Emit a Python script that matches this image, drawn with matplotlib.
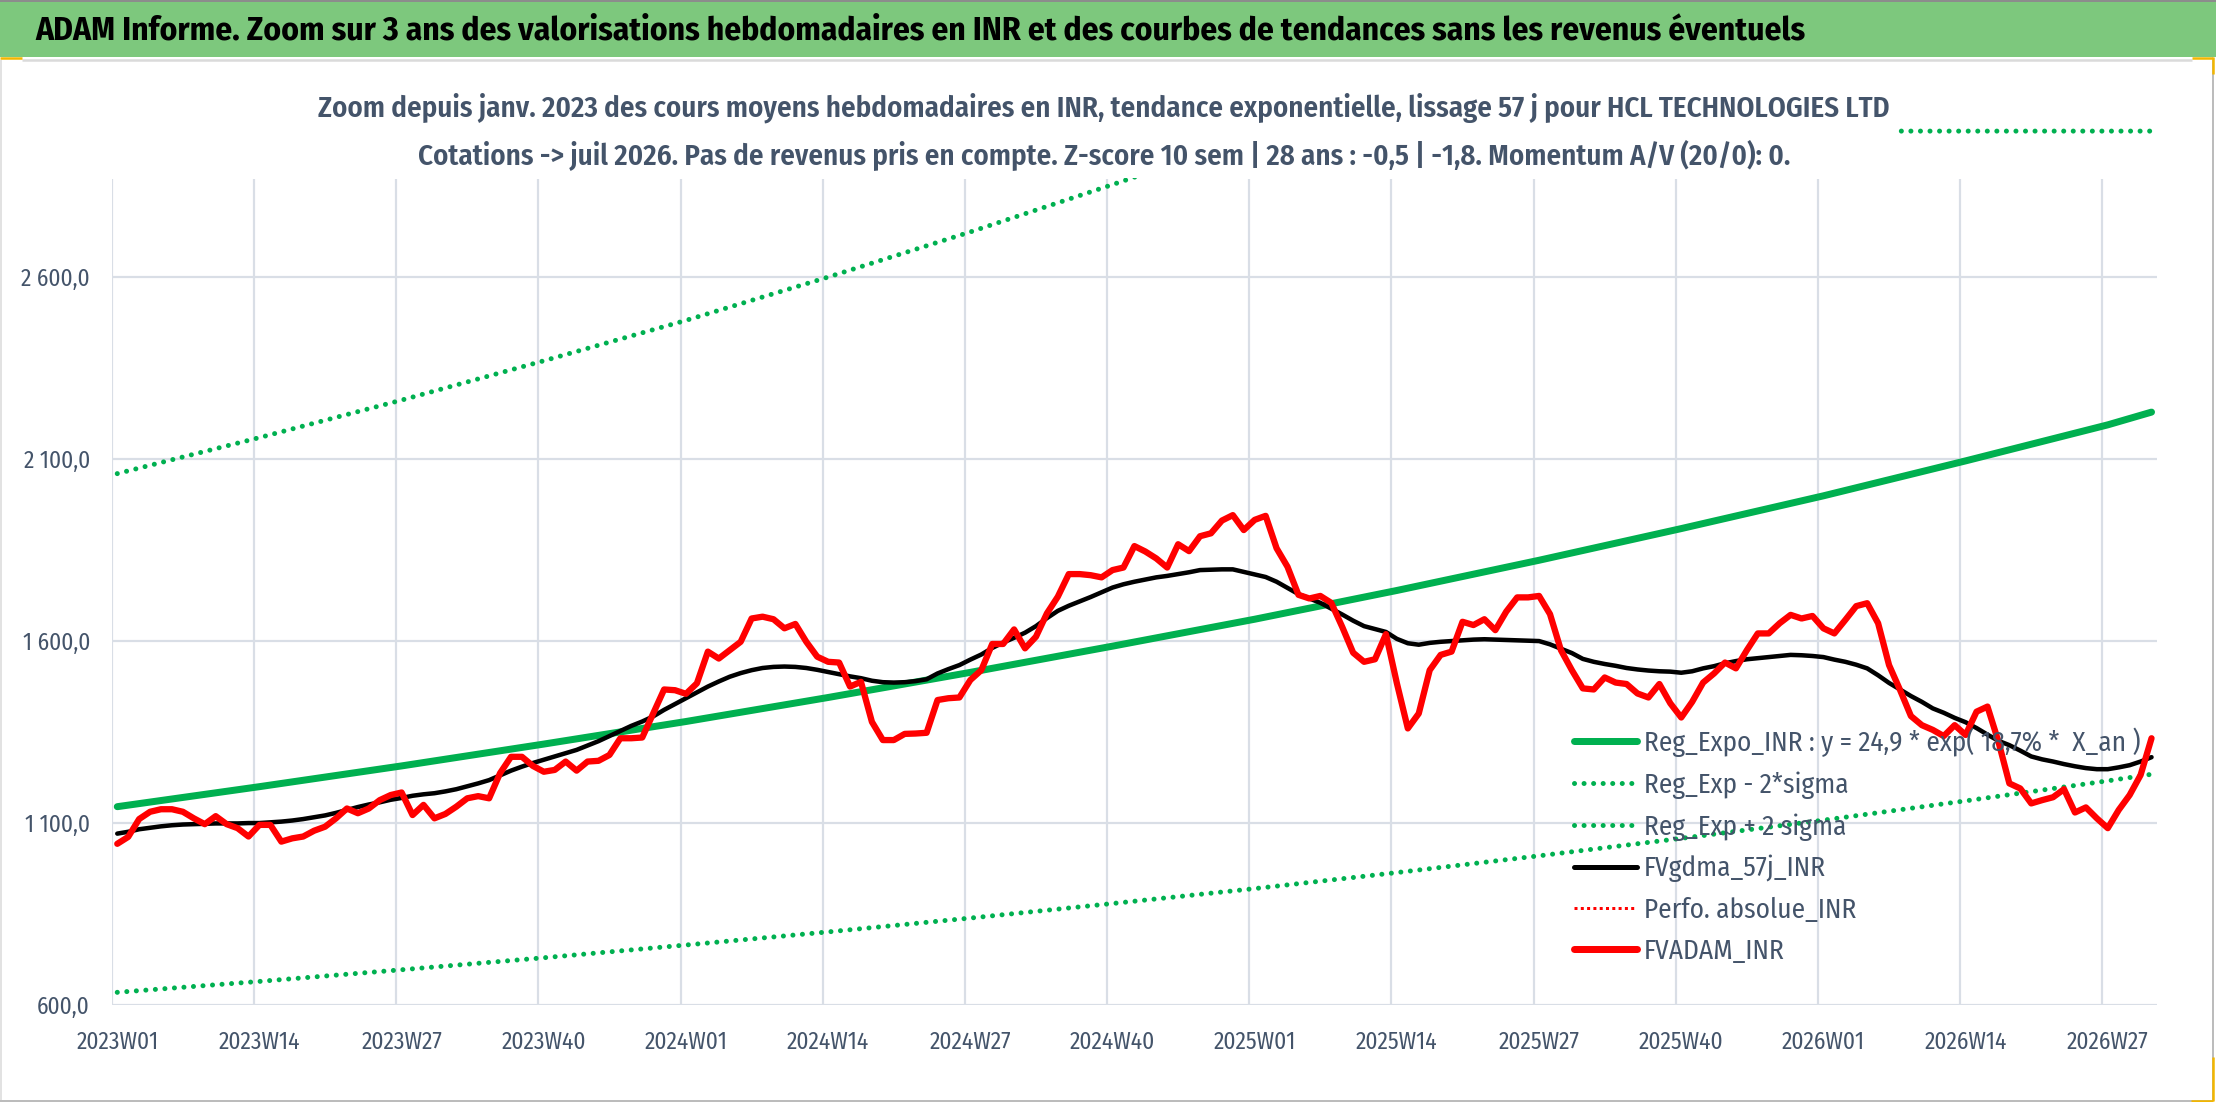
import numpy as np
import matplotlib
matplotlib.use("Agg")
import matplotlib.pyplot as plt
from matplotlib import font_manager as fm
from matplotlib.font_manager import FontProperties
from matplotlib.lines import Line2D
from matplotlib.patches import Rectangle

# ---------------- data ----------------
title = ("ADAM Informe. Zoom sur 3 ans des valorisations hebdomadaires en INR "
         "et des courbes de tendances sans les revenus éventuels")
subtitle_1 = ("Zoom depuis janv. 2023 des cours moyens hebdomadaires en INR, tendance "
              "exponentielle, lissage 57 j pour HCL TECHNOLOGIES LTD")
subtitle_2 = ("Cotations -> juil 2026. Pas de revenus pris en compte. Z-score 10 sem | "
              "28 ans : -0,5 | -1,8. Momentum A/V (20/0): 0.")

tick_weeks = [0, 13, 26, 39, 52, 65, 78, 91, 104, 117, 130, 143, 156, 169, 182]
tick_labels = ["2023W01", "2023W14", "2023W27", "2023W40", "2024W01", "2024W14",
               "2024W27", "2024W40", "2025W01", "2025W14", "2025W27", "2025W40",
               "2026W01", "2026W14", "2026W27"]
y_ticks = [600, 1100, 1600, 2100, 2600]
y_tick_labels = ["600,0", "1 100,0", "1 600,0", "2 100,0", "2 600,0"]

legend_labels = ["Reg_Expo_INR : y = 24,9 * exp( 18,7% *  X_an )",
                 "Reg_Exp - 2*sigma",
                 "Reg_Exp + 2 sigma",
                 "FVgdma_57j_INR",
                 "Perfo. absolue_INR",
                 "FVADAM_INR"]

# weekly average valuation (one value per week from 2023W01)
fvadam_inr = [
    1042, 1061, 1110, 1130, 1137, 1137, 1130, 1112, 1096, 1118,
    1096, 1085, 1062, 1094, 1094, 1048, 1057, 1062, 1078, 1089,
    1112, 1139, 1126, 1139, 1162, 1176, 1183, 1121, 1149, 1112,
    1124, 1144, 1167, 1173, 1167, 1236, 1281, 1281, 1256, 1240,
    1245, 1268, 1243, 1268, 1270, 1286, 1332, 1332, 1334, 1400,
    1466, 1464, 1454, 1483, 1570, 1551, 1574, 1597, 1661, 1666,
    1659, 1634, 1646, 1597, 1556, 1542, 1540, 1474, 1487, 1377,
    1327, 1327, 1344, 1345, 1347, 1437, 1442, 1444, 1492, 1519,
    1591, 1591, 1631, 1579, 1611, 1675, 1721, 1783, 1783, 1780,
    1774, 1794, 1801, 1860, 1845, 1826, 1801, 1865, 1846, 1887,
    1895, 1930, 1945, 1904, 1932, 1943, 1854, 1803, 1726, 1716,
    1723, 1704, 1638, 1567, 1542, 1549, 1618, 1483, 1359, 1400,
    1519, 1561, 1570, 1652, 1643, 1659, 1629, 1680, 1719, 1719,
    1723, 1673, 1574, 1519, 1469, 1466, 1499, 1485, 1481, 1455,
    1444, 1481, 1428, 1389, 1432, 1485, 1510, 1540, 1524, 1574,
    1620, 1620, 1648, 1671, 1661, 1668, 1634, 1620, 1657, 1695,
    1703, 1648, 1533, 1465, 1393, 1368, 1355, 1338, 1368, 1341,
    1405, 1419, 1323, 1208, 1194, 1153, 1162, 1170, 1192, 1128,
    1142, 1112, 1085, 1135, 1176, 1231, 1332]

# 57-day smoothed valuation (one value per week)
fvgdma_57j_inr = [
    1070, 1075, 1082, 1086, 1090, 1093, 1095, 1096, 1097, 1098,
    1098, 1098, 1099, 1099, 1101, 1103, 1106, 1110, 1115, 1120,
    1127, 1135, 1143, 1150, 1156, 1163, 1168, 1174, 1178, 1181,
    1186, 1192, 1200, 1208, 1217, 1230, 1243, 1254, 1264, 1273,
    1282, 1291, 1300, 1312, 1324, 1338, 1352, 1366, 1378, 1392,
    1410, 1426, 1442, 1458, 1474, 1488, 1501, 1511, 1519, 1525,
    1528, 1529, 1528, 1525, 1520, 1514, 1508, 1502, 1497, 1490,
    1486, 1485, 1486, 1489, 1494, 1510, 1522, 1533, 1548, 1562,
    1580, 1595, 1608, 1622, 1640, 1662, 1682, 1696, 1708, 1720,
    1733, 1746, 1755, 1762, 1768, 1774, 1778, 1783, 1788, 1794,
    1795, 1796, 1796, 1789, 1782, 1775, 1762, 1745, 1728, 1716,
    1704, 1688, 1672, 1655, 1640, 1632, 1624, 1605, 1593, 1589,
    1594, 1597, 1599, 1601, 1603, 1604, 1603, 1602, 1601, 1600,
    1599, 1590, 1578, 1566, 1550, 1542, 1536, 1531, 1525, 1521,
    1518, 1516, 1515, 1512, 1516, 1524, 1530, 1538, 1544, 1549,
    1552, 1555, 1558, 1561, 1560, 1558, 1555, 1548, 1542, 1534,
    1524, 1505, 1484, 1466, 1448, 1432, 1414, 1402, 1388, 1376,
    1360, 1342, 1325, 1313, 1298, 1282, 1274, 1268, 1261, 1255,
    1250, 1247, 1247, 1252, 1258, 1268, 1280]

# exponential trend and its bands, read at the weeks below
reg_weeks = [0, 13, 26, 39, 52, 65, 78, 91, 104, 117, 130, 143, 156, 169, 182, 186]
reg_expo_inr = [1144, 1199, 1256, 1316, 1378, 1444, 1513, 1585, 1659, 1738,
                1821, 1908, 1998, 2094, 2193, 2228]
reg_exp_minus_2sigma = [634, 664, 696, 729, 764, 800, 838, 878, 919, 963,
                        1009, 1057, 1107, 1160, 1215, 1233]
reg_exp_plus_2sigma = [2059, 2158, 2261, 2369, 2480, 2599, 2723, 2853, 2986, 3000,
                       3000, 3000, 3000, 3000, 3000, 3000]

# ---------------- fonts ----------------
ttf = fm.fontManager.ttflist
names = {f.name for f in ttf}
family = "DejaVu Sans"
for cand in ["Fira Sans Condensed", "PT Sans Narrow", "Roboto Condensed",
             "Liberation Sans Narrow"]:
    if cand in names:
        family = cand
        break
FP = FontProperties(family=family)
FPS = FontProperties(family=family, weight="semibold")
FPB = FontProperties(family=family, weight="bold")

SLATE = "#44546A"
GREEN = "#00B050"

# ---------------- figure geometry (pixels, origin top-left) ----------------
W, H, DPI = 2216, 1102, 100
fig = plt.figure(figsize=(W / DPI, H / DPI), dpi=DPI)
fig.patch.set_facecolor("white")
R = fig.canvas.get_renderer()


def fx(px):
    return px / W


def fy(py):
    return 1 - py / H


def pt(px):
    return px * 72.0 / DPI


def fit_size(fp, text, target_px, base=20.0):
    t = fig.text(0, 0, text, fontproperties=fp, fontsize=base)
    ext = t.get_window_extent(R)
    t.remove()
    s = base * target_px / ext.width
    return s, ext.height * s / base


AX_L, AX_R, AX_T, AX_B = 111.8, 2157.0, 179.0, 1004.7
ax = fig.add_axes([fx(AX_L), fy(AX_B), (AX_R - AX_L) / W, (AX_B - AX_T) / H])
ax.set_facecolor("none")
y_per_px = 500.0 / 182.0
ax.set_xlim(0, 187)
ax.set_ylim(600, 600 + (AX_B - AX_T) * y_per_px)

for s in ax.spines.values():
    s.set_visible(False)

# grid: vertical at tick weeks, horizontal at value ticks
ax.set_xticks(tick_weeks, minor=True)
ax.set_xticks([w + 0.5 for w in tick_weeks])
ax.set_yticks(y_ticks)
ax.grid(which="minor", axis="x", color="#D9DEE6", lw=pt(2.2))
ax.grid(which="major", axis="y", color="#D9DEE6", lw=pt(2.2))
ax.grid(which="major", axis="x", visible=False)
ax.set_axisbelow(True)

tick_fs, tick_h = fit_size(FP, "2026W27", 82)
ax.set_xticklabels(tick_labels, fontproperties=FP, fontsize=tick_fs, color=SLATE)
ax.set_yticklabels(y_tick_labels, fontproperties=FP, fontsize=tick_fs, color=SLATE)
ax.tick_params(axis="both", which="both", length=0)
ax.tick_params(axis="y", pad=pt(AX_L - 90))
ax.tick_params(axis="x", pad=pt(1042 - tick_h / 2 - AX_B))

# ---------------- series ----------------
weeks = np.arange(len(fvadam_inr)) + 0.5
rw = np.array(reg_weeks) + 0.5
DOT = (0, (0.01, 1.9))

ax.plot(rw, reg_expo_inr, color=GREEN, lw=pt(7), solid_capstyle="round", zorder=3)
ax.plot(rw, reg_exp_minus_2sigma, color=GREEN, lw=pt(5), ls=DOT,
        dash_capstyle="round", zorder=3)
ax.plot(rw, reg_exp_plus_2sigma, color=GREEN, lw=pt(5), ls=DOT,
        dash_capstyle="round", zorder=3, clip_on=False)
ax.plot(weeks, fvgdma_57j_inr, color="black", lw=pt(4.5), solid_capstyle="round",
        solid_joinstyle="round", zorder=4)
ax.plot(weeks, fvadam_inr, color="#FF0000", lw=pt(6.3), solid_capstyle="round",
        solid_joinstyle="round", zorder=5)

# ---------------- legend ----------------
handles = [
    Line2D([], [], color=GREEN, lw=pt(7), solid_capstyle="round"),
    Line2D([], [], color=GREEN, lw=pt(5), ls=DOT, dash_capstyle="round"),
    Line2D([], [], color=GREEN, lw=pt(5), ls=DOT, dash_capstyle="round"),
    Line2D([], [], color="black", lw=pt(5), solid_capstyle="round"),
    Line2D([], [], color="#FF0000", lw=pt(3), ls=(0, (1, 1.1))),
    Line2D([], [], color="#FF0000", lw=pt(7), solid_capstyle="round"),
]
leg_fs, leg_h = fit_size(FP, legend_labels[0], 497)
leg_fs_px = leg_fs * DPI / 72.0
leg_prop = FP.copy()
leg_prop.set_size(leg_fs)
leg_kw = dict(loc="upper left", bbox_transform=fig.transFigure, frameon=False,
              prop=leg_prop, borderpad=0, borderaxespad=0,
              handlelength=63 / leg_fs_px, handletextpad=7 / leg_fs_px,
              labelspacing=(43.3 - leg_h) / leg_fs_px, labelcolor=SLATE)
anchor = [1574.0, 742 - leg_h / 2]
leg = ax.legend(handles, legend_labels, bbox_to_anchor=(fx(anchor[0]), fy(anchor[1])), **leg_kw)
fig.canvas.draw()
bb = leg.get_texts()[0].get_window_extent(R)
anchor[0] += 1644 - bb.x0
anchor[1] += 742 - (H - (bb.y0 + bb.y1) / 2)
leg.remove()
leg = ax.legend(handles, legend_labels, bbox_to_anchor=(fx(anchor[0]), fy(anchor[1])), **leg_kw)

# ---------------- chart frame, title bar, subtitle ----------------
fig.add_artist(Rectangle((0, fy(57)), 1, 55 / H, transform=fig.transFigure,
                         facecolor="#7DC87D", edgecolor="none", zorder=1))


def seg(x0, y0, x1, y1, color, lw):
    fig.add_artist(Line2D([fx(x0), fx(x1)], [fy(y0), fy(y1)], transform=fig.transFigure,
                          color=color, lw=pt(lw), solid_capstyle="butt", zorder=2))


seg(0, 1, W, 1, "#8C8C8C", 2)
seg(22, 59.5, 2192, 59.5, "#DADADA", 2.5)
seg(2213, 60, 2213, 1100, "#A6A6A6", 1.5)
seg(0, 1100.5, 2213, 1100.5, "#A6A6A6", 1.5)
seg(1.2, 60, 1.2, 1100, "#D9D9D9", 1.5)
seg(0, 58, 22, 58, "#F2B600", 2.5)
seg(2192, 58, 2213, 58, "#F2B600", 2.5)
seg(2213, 57, 2213, 74, "#F2B600", 2.5)
seg(2213, 1057, 2213, 1101, "#F2B600", 2.5)
seg(2191, 1100.5, 2213, 1100.5, "#F2B600", 2.5)

title_fs, _ = fit_size(FPB, title, 1773)
fig.text(fx(35), fy(31), title, fontproperties=FPB, fontsize=title_fs, color="black",
         ha="left", va="center", zorder=3)

sub_fs, sub_h = fit_size(FPS, subtitle_1, 1571)
fig.add_artist(Rectangle((fx(311), fy(178)), (1898 - 311) / W, (178 - 84) / H,
                         transform=fig.transFigure, facecolor="white",
                         edgecolor="none", zorder=2.5))
fig.text(fx(1104), fy(108), subtitle_1, fontproperties=FPS, fontsize=sub_fs,
         color=SLATE, ha="center", va="center", zorder=3)
fig.text(fx(1104), fy(155), subtitle_2, fontproperties=FPS, fontsize=sub_fs,
         color=SLATE, ha="center", va="center", zorder=3)

fig.savefig("out.png", dpi=DPI, facecolor="white")
